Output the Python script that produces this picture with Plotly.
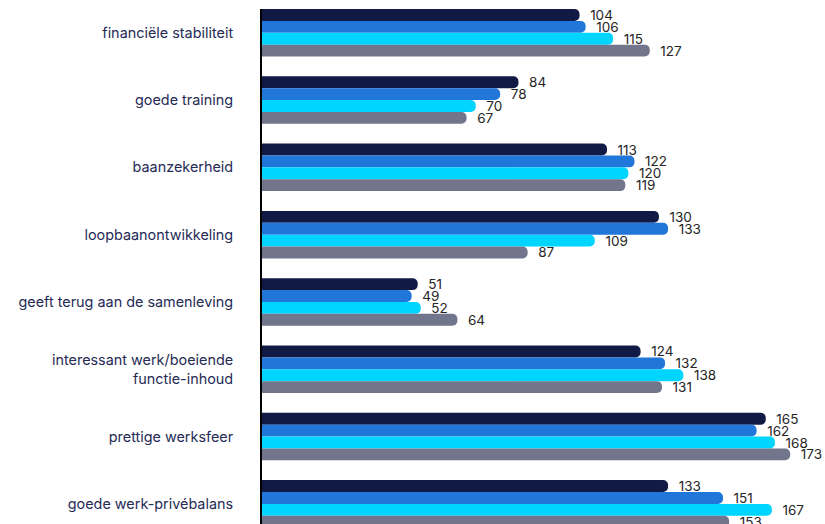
import plotly.graph_objects as go

# Motivators (top to bottom) and scores for the four respondent groups
categories = [
    "financiële stabiliteit",
    "goede training",
    "baanzekerheid",
    "loopbaanontwikkeling",
    "geeft terug aan de samenleving",
    "interessant werk/boeiende<br>functie-inhoud",
    "prettige werksfeer",
    "goede werk-privébalans",
]
series_a = [104, 84, 113, 130, 51, 124, 165, 133]
series_b = [106, 78, 122, 133, 49, 132, 162, 151]
series_c = [115, 70, 120, 109, 52, 138, 168, 167]
series_d = [127, 67, 119, 87, 64, 131, 173, 153]

series = [series_a, series_b, series_c, series_d]
colors = ["#111a45", "#2176d9", "#00d5ff", "#72768c"]

fig = go.Figure()
for vals, col in zip(series, colors):
    fig.add_trace(go.Bar(
        x=vals,
        y=categories,
        orientation="h",
        marker=dict(color=col, cornerradius=6, line=dict(width=0)),
        text=vals,
        texttemplate="\u00a0\u00a0%{x}",
        textposition="outside",
        textangle=0,
        constraintext="none",
        cliponaxis=False,
        textfont=dict(family="Inter, Lato, sans-serif", size=13.5, color="#252525"),
        hoverinfo="skip",
    ))

fig.update_layout(
    width=825,
    height=524,
    margin=dict(l=262, r=0, t=9, b=0),
    barmode="group",
    bargap=0.294,
    bargroupgap=0,
    showlegend=False,
    plot_bgcolor="white",
    paper_bgcolor="white",
    font=dict(family="Inter, Lato, sans-serif"),
)
fig.update_xaxes(
    range=[0, 184.4],
    showgrid=False,
    zeroline=False,
    showticklabels=False,
    showline=False,
)
fig.update_yaxes(
    range=[7.299, -0.353],
    showgrid=False,
    zeroline=False,
    showline=True,
    linecolor="#000000",
    linewidth=2,
    ticks="outside",
    ticklen=24,
    tickcolor="rgba(0,0,0,0)",
    tickfont=dict(family="Inter, Lato, sans-serif", size=14.4, color="#262b55"),
)

fig.write_html("out.html")
